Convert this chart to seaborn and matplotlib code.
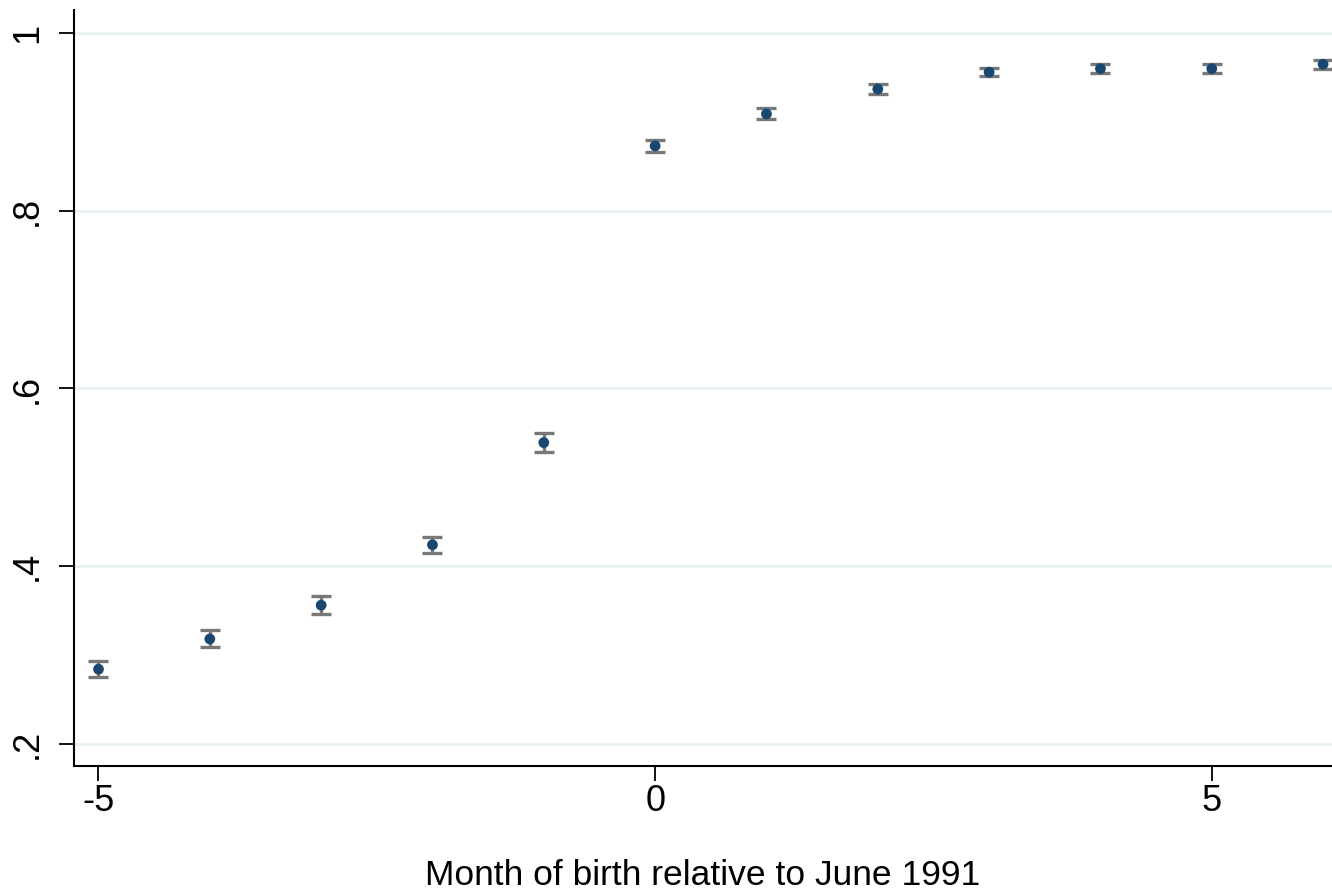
import numpy as np
import pandas as pd
import matplotlib
matplotlib.use("Agg")
import matplotlib.pyplot as plt
import seaborn as sns

# dados
meses = [-5, -4, -3, -2, -1, 0, 1, 2, 3, 4, 5, 6]
media = [0.284, 0.318, 0.356, 0.424, 0.539, 0.873, 0.909, 0.937, 0.956, 0.960, 0.960, 0.965]
erro = [0.0088, 0.0096, 0.0098, 0.0092, 0.0104, 0.0070, 0.0062, 0.0058, 0.0047, 0.0048, 0.0048, 0.0050]

y_ticks = [0.2, 0.4, 0.6, 0.8, 1.0]
y_labels = [".2", ".4", ".6", ".8", "1"]
x_ticks = [-5, 0, 5]

df = pd.DataFrame({"mes": meses, "media": media, "erro": erro})

sns.set_style("white")
plt.rcParams["font.family"] = ["Liberation Sans", "DejaVu Sans"]
plt.rcParams["text.color"] = "black"
plt.rcParams["axes.labelcolor"] = "black"
plt.rcParams["xtick.color"] = "black"
plt.rcParams["ytick.color"] = "black"

fig = plt.figure(figsize=(13.32, 8.92), dpi=100)
ax = fig.add_axes([74 / 1332, 126 / 892, 1 - 74 / 1332, 756 / 892])

# linhas de grade horizontais (estilo Stata)
for yv in y_ticks:
    ax.axhline(yv, color="#eaf2f3", lw=2.2, zorder=0)

# intervalos de confiança
ax.errorbar(df["mes"], df["media"], yerr=df["erro"], fmt="none",
            ecolor="#787878", elinewidth=2.4, capsize=7, capthick=2.4, zorder=2)
# pontos
sns.scatterplot(data=df, x="mes", y="media", ax=ax, color="#1a476f",
                s=60, edgecolor="none", zorder=3, legend=False)

ax.set_xlim(-5.22, 6.08)
ax.set_ylim(0.175, 1.026)
ax.set_xticks(x_ticks)
ax.set_xticklabels([str(v) for v in x_ticks])
ax.set_yticks(y_ticks)
ax.set_yticklabels(y_labels, rotation=90, va="center")

ax.tick_params(axis="both", which="major", direction="out", length=11,
               width=1.3, color="black", labelcolor="black", labelsize=26,
               bottom=True, left=True)
ax.tick_params(axis="x", pad=2)
ax.tick_params(axis="y", pad=10)

for s in ["left", "bottom"]:
    ax.spines[s].set_color("black")
    ax.spines[s].set_linewidth(1.5)
ax.spines["top"].set_visible(False)
ax.spines["right"].set_visible(False)

ax.set_xlabel("Month of birth relative to June 1991", fontsize=25.5, labelpad=29,
              color="black")
ax.set_ylabel("")

fig.savefig("out.png", dpi=100)
